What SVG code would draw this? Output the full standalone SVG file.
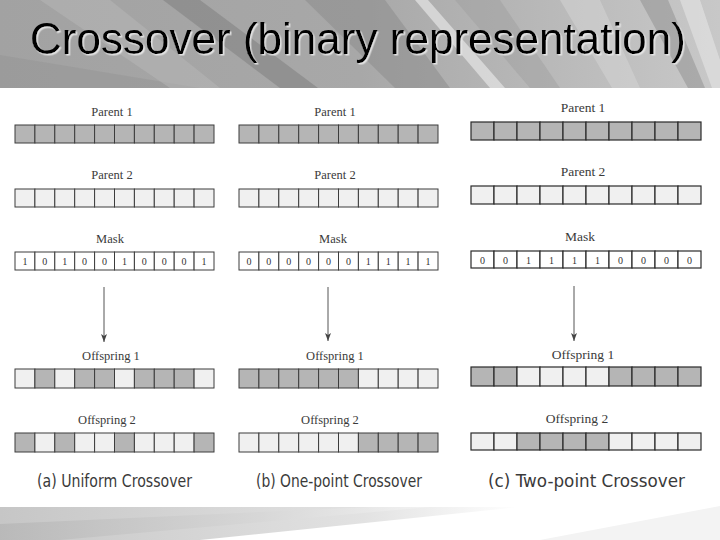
<svg xmlns="http://www.w3.org/2000/svg" width="720" height="540" viewBox="0 0 720 540">
  <defs>
    <linearGradient id="titleBg" x1="0" y1="0" x2="1" y2="0">
      <stop offset="0" stop-color="#a2a2a2"/>
      <stop offset="0.5" stop-color="#a8a8a8"/>
      <stop offset="1" stop-color="#c8c8c8"/>
    </linearGradient>
    <linearGradient id="footA" x1="0" y1="0" x2="1" y2="0">
      <stop offset="0" stop-color="#c6c6c6"/>
      <stop offset="0.7" stop-color="#e2e2e2"/>
      <stop offset="1" stop-color="#ffffff"/>
    </linearGradient>
    <linearGradient id="footB" x1="0" y1="0" x2="1" y2="0">
      <stop offset="0" stop-color="#b6b6b6"/>
      <stop offset="0.6" stop-color="#d6d6d6"/>
      <stop offset="1" stop-color="#f4f4f4"/>
    </linearGradient>
    <filter id="shadow" x="-5%" y="-20%" width="110%" height="140%">
      <feDropShadow dx="1.5" dy="1.5" stdDeviation="0.6" flood-color="#e8e8e8" flood-opacity="0.9"/>
    </filter>
    <marker id="arrow" viewBox="0 0 8 6" refX="8" refY="3" markerWidth="8" markerHeight="6" markerUnits="userSpaceOnUse" orient="auto">
      <path d="M0,0 L8,3 L0,6 L2,3 Z" fill="#444"/>
    </marker>
    <style>
      .d{fill:#b5b5b5;stroke:#3c3c3c;stroke-width:1}
      .l{fill:#f0f0f0;stroke:#3c3c3c;stroke-width:1}
      .m{fill:#ffffff;stroke:#3c3c3c;stroke-width:1}
      .c .d,.c .l,.c .m{stroke:#2a2a2a;stroke-width:1.2}
      .lbl{font-family:"Liberation Serif","DejaVu Serif",serif;font-size:12.5px;fill:#3a3a3a;text-anchor:middle}
      .c .lbl{font-size:13.5px}
      .dg{font-family:"Liberation Serif","DejaVu Serif",serif;font-size:10px;fill:#333;text-anchor:middle}
      .cap{font-family:"DejaVu Sans","Liberation Sans",sans-serif;font-size:17px;fill:#3a3a3a}
      .conn line{stroke:#555;stroke-width:1}
    </style>
  </defs>

  <!-- background -->
  <rect x="0" y="0" width="720" height="540" fill="#ffffff"/>
  <g id="title-band">
    <rect x="0" y="0" width="720" height="88" fill="url(#titleBg)"/>
    <polygon points="0,55 200,88 0,88" fill="#909090" opacity="0.35"/>
    <polygon points="40,0 110,0 220,88 170,88" fill="#b8b8b8" opacity="0.5"/>
    <polygon points="163,0 200,0 318,88 280,88" fill="#808080" opacity="0.55"/>
    <polygon points="305,0 385,0 450,88 395,88" fill="#8a8a8a" opacity="0.5"/>
    <polygon points="415,0 428,0 505,88 490,88" fill="#e6e6e6" opacity="0.7"/>
    <polygon points="455,0 500,0 560,88 530,88" fill="#9c9c9c" opacity="0.4"/>
    <polygon points="560,0 600,0 640,88 612,88" fill="#d6d6d6" opacity="0.5"/>
    <polygon points="640,0 668,0 705,88 688,88" fill="#8e8e8e" opacity="0.5"/>
    <polygon points="680,0 700,0 720,60 720,88 712,88" fill="#e4e4e4" opacity="0.6"/>
    <text x="30" y="54" font-family="Liberation Sans, Arial, sans-serif" font-size="44" fill="#000" filter="url(#shadow)" textLength="656" lengthAdjust="spacingAndGlyphs">Crossover (binary representation)</text>
  </g>
  <g id="footer-band">
    <polygon points="0,507 520,507 200,540 0,540" fill="url(#footA)"/>
    <polygon points="0,524 370,507 430,507 60,540 0,540" fill="url(#footB)" opacity="0.8"/>
    <polygon points="540,540 720,506 720,540" fill="#f3f3f3"/>
  </g>

  <!-- Panel (a) Uniform -->
  <g id="panel-a">
    <text class="lbl" x="112" y="116">Parent 1</text>
    <g transform="translate(15,125)">
      <rect class="d" x="0" width="19.9" height="18"/><rect class="d" x="19.9" width="19.9" height="18"/><rect class="d" x="39.8" width="19.9" height="18"/><rect class="d" x="59.7" width="19.9" height="18"/><rect class="d" x="79.6" width="19.9" height="18"/><rect class="d" x="99.5" width="19.9" height="18"/><rect class="d" x="119.4" width="19.9" height="18"/><rect class="d" x="139.3" width="19.9" height="18"/><rect class="d" x="159.2" width="19.9" height="18"/><rect class="d" x="179.1" width="19.9" height="18"/>
    </g>
    <text class="lbl" x="112" y="179">Parent 2</text>
    <g transform="translate(15,189)">
      <rect class="l" x="0" width="19.9" height="18"/><rect class="l" x="19.9" width="19.9" height="18"/><rect class="l" x="39.8" width="19.9" height="18"/><rect class="l" x="59.7" width="19.9" height="18"/><rect class="l" x="79.6" width="19.9" height="18"/><rect class="l" x="99.5" width="19.9" height="18"/><rect class="l" x="119.4" width="19.9" height="18"/><rect class="l" x="139.3" width="19.9" height="18"/><rect class="l" x="159.2" width="19.9" height="18"/><rect class="l" x="179.1" width="19.9" height="18"/>
    </g>
    <text class="lbl" x="110" y="243">Mask</text>
    <g transform="translate(15,252)">
      <rect class="m" x="0" width="19.9" height="18"/><rect class="m" x="19.9" width="19.9" height="18"/><rect class="m" x="39.8" width="19.9" height="18"/><rect class="m" x="59.7" width="19.9" height="18"/><rect class="m" x="79.6" width="19.9" height="18"/><rect class="m" x="99.5" width="19.9" height="18"/><rect class="m" x="119.4" width="19.9" height="18"/><rect class="m" x="139.3" width="19.9" height="18"/><rect class="m" x="159.2" width="19.9" height="18"/><rect class="m" x="179.1" width="19.9" height="18"/>
      <text class="dg" x="9.9" y="13">1</text><text class="dg" x="29.8" y="13">0</text><text class="dg" x="49.7" y="13">1</text><text class="dg" x="69.6" y="13">0</text><text class="dg" x="89.5" y="13">0</text><text class="dg" x="109.4" y="13">1</text><text class="dg" x="129.3" y="13">0</text><text class="dg" x="149.2" y="13">0</text><text class="dg" x="169.1" y="13">0</text><text class="dg" x="189" y="13">1</text>
    </g>
    <text class="lbl" x="111" y="360">Offspring 1</text>
    <g transform="translate(15,369)">
      <rect class="l" x="0" width="19.9" height="19"/><rect class="d" x="19.9" width="19.9" height="19"/><rect class="l" x="39.8" width="19.9" height="19"/><rect class="d" x="59.7" width="19.9" height="19"/><rect class="d" x="79.6" width="19.9" height="19"/><rect class="l" x="99.5" width="19.9" height="19"/><rect class="d" x="119.4" width="19.9" height="19"/><rect class="d" x="139.3" width="19.9" height="19"/><rect class="d" x="159.2" width="19.9" height="19"/><rect class="l" x="179.1" width="19.9" height="19"/>
    </g>
    <text class="lbl" x="107" y="424">Offspring 2</text>
    <g transform="translate(15,433)">
      <rect class="d" x="0" width="19.9" height="19"/><rect class="l" x="19.9" width="19.9" height="19"/><rect class="d" x="39.8" width="19.9" height="19"/><rect class="l" x="59.7" width="19.9" height="19"/><rect class="l" x="79.6" width="19.9" height="19"/><rect class="d" x="99.5" width="19.9" height="19"/><rect class="l" x="119.4" width="19.9" height="19"/><rect class="l" x="139.3" width="19.9" height="19"/><rect class="l" x="159.2" width="19.9" height="19"/><rect class="d" x="179.1" width="19.9" height="19"/>
    </g>
    <text class="cap" x="37" y="487" textLength="155" lengthAdjust="spacingAndGlyphs">(a) Uniform Crossover</text>
  </g>

  <!-- Panel (b) One-point -->
  <g id="panel-b">
    <text class="lbl" x="335" y="116">Parent 1</text>
    <g transform="translate(239,125)">
      <rect class="d" x="0" width="19.9" height="18"/><rect class="d" x="19.9" width="19.9" height="18"/><rect class="d" x="39.8" width="19.9" height="18"/><rect class="d" x="59.7" width="19.9" height="18"/><rect class="d" x="79.6" width="19.9" height="18"/><rect class="d" x="99.5" width="19.9" height="18"/><rect class="d" x="119.4" width="19.9" height="18"/><rect class="d" x="139.3" width="19.9" height="18"/><rect class="d" x="159.2" width="19.9" height="18"/><rect class="d" x="179.1" width="19.9" height="18"/>
    </g>
    <text class="lbl" x="335" y="179">Parent 2</text>
    <g transform="translate(239,189)">
      <rect class="l" x="0" width="19.9" height="18"/><rect class="l" x="19.9" width="19.9" height="18"/><rect class="l" x="39.8" width="19.9" height="18"/><rect class="l" x="59.7" width="19.9" height="18"/><rect class="l" x="79.6" width="19.9" height="18"/><rect class="l" x="99.5" width="19.9" height="18"/><rect class="l" x="119.4" width="19.9" height="18"/><rect class="l" x="139.3" width="19.9" height="18"/><rect class="l" x="159.2" width="19.9" height="18"/><rect class="l" x="179.1" width="19.9" height="18"/>
    </g>
    <text class="lbl" x="333" y="243">Mask</text>
    <g transform="translate(239,252)">
      <rect class="m" x="0" width="19.9" height="18"/><rect class="m" x="19.9" width="19.9" height="18"/><rect class="m" x="39.8" width="19.9" height="18"/><rect class="m" x="59.7" width="19.9" height="18"/><rect class="m" x="79.6" width="19.9" height="18"/><rect class="m" x="99.5" width="19.9" height="18"/><rect class="m" x="119.4" width="19.9" height="18"/><rect class="m" x="139.3" width="19.9" height="18"/><rect class="m" x="159.2" width="19.9" height="18"/><rect class="m" x="179.1" width="19.9" height="18"/>
      <text class="dg" x="9.9" y="13">0</text><text class="dg" x="29.8" y="13">0</text><text class="dg" x="49.7" y="13">0</text><text class="dg" x="69.6" y="13">0</text><text class="dg" x="89.5" y="13">0</text><text class="dg" x="109.4" y="13">0</text><text class="dg" x="129.3" y="13">1</text><text class="dg" x="149.2" y="13">1</text><text class="dg" x="169.1" y="13">1</text><text class="dg" x="189" y="13">1</text>
    </g>
    <text class="lbl" x="335" y="360">Offspring 1</text>
    <g transform="translate(239,369)">
      <rect class="d" x="0" width="19.9" height="19"/><rect class="d" x="19.9" width="19.9" height="19"/><rect class="d" x="39.8" width="19.9" height="19"/><rect class="d" x="59.7" width="19.9" height="19"/><rect class="d" x="79.6" width="19.9" height="19"/><rect class="d" x="99.5" width="19.9" height="19"/><rect class="l" x="119.4" width="19.9" height="19"/><rect class="l" x="139.3" width="19.9" height="19"/><rect class="l" x="159.2" width="19.9" height="19"/><rect class="l" x="179.1" width="19.9" height="19"/>
    </g>
    <text class="lbl" x="330" y="424">Offspring 2</text>
    <g transform="translate(239,433)">
      <rect class="l" x="0" width="19.9" height="19"/><rect class="l" x="19.9" width="19.9" height="19"/><rect class="l" x="39.8" width="19.9" height="19"/><rect class="l" x="59.7" width="19.9" height="19"/><rect class="l" x="79.6" width="19.9" height="19"/><rect class="l" x="99.5" width="19.9" height="19"/><rect class="d" x="119.4" width="19.9" height="19"/><rect class="d" x="139.3" width="19.9" height="19"/><rect class="d" x="159.2" width="19.9" height="19"/><rect class="d" x="179.1" width="19.9" height="19"/>
    </g>
    <text class="cap" x="256" y="487" textLength="166" lengthAdjust="spacingAndGlyphs">(b) One-point Crossover</text>
  </g>

  <!-- Panel (c) Two-point -->
  <g id="panel-c" class="c">
    <text class="lbl" x="583" y="112">Parent 1</text>
    <g transform="translate(471,122)">
      <rect class="d" x="0" width="23" height="18"/><rect class="d" x="23" width="23" height="18"/><rect class="d" x="46" width="23" height="18"/><rect class="d" x="69" width="23" height="18"/><rect class="d" x="92" width="23" height="18"/><rect class="d" x="115" width="23" height="18"/><rect class="d" x="138" width="23" height="18"/><rect class="d" x="161" width="23" height="18"/><rect class="d" x="184" width="23" height="18"/><rect class="d" x="207" width="23" height="18"/>
    </g>
    <text class="lbl" x="583" y="176">Parent 2</text>
    <g transform="translate(471,186)">
      <rect class="l" x="0" width="23" height="18"/><rect class="l" x="23" width="23" height="18"/><rect class="l" x="46" width="23" height="18"/><rect class="l" x="69" width="23" height="18"/><rect class="l" x="92" width="23" height="18"/><rect class="l" x="115" width="23" height="18"/><rect class="l" x="138" width="23" height="18"/><rect class="l" x="161" width="23" height="18"/><rect class="l" x="184" width="23" height="18"/><rect class="l" x="207" width="23" height="18"/>
    </g>
    <text class="lbl" x="580" y="241">Mask</text>
    <g transform="translate(471,251)">
      <rect class="m" x="0" width="23" height="17"/><rect class="m" x="23" width="23" height="17"/><rect class="m" x="46" width="23" height="17"/><rect class="m" x="69" width="23" height="17"/><rect class="m" x="92" width="23" height="17"/><rect class="m" x="115" width="23" height="17"/><rect class="m" x="138" width="23" height="17"/><rect class="m" x="161" width="23" height="17"/><rect class="m" x="184" width="23" height="17"/><rect class="m" x="207" width="23" height="17"/>
      <text class="dg" x="11.5" y="13">0</text><text class="dg" x="34.5" y="13">0</text><text class="dg" x="57.5" y="13">1</text><text class="dg" x="80.5" y="13">1</text><text class="dg" x="103.5" y="13">1</text><text class="dg" x="126.5" y="13">1</text><text class="dg" x="149.5" y="13">0</text><text class="dg" x="172.5" y="13">0</text><text class="dg" x="195.5" y="13">0</text><text class="dg" x="218.5" y="13">0</text>
    </g>
    <text class="lbl" x="583" y="359">Offspring 1</text>
    <g transform="translate(471,367)">
      <rect class="d" x="0" width="23" height="19"/><rect class="d" x="23" width="23" height="19"/><rect class="l" x="46" width="23" height="19"/><rect class="l" x="69" width="23" height="19"/><rect class="l" x="92" width="23" height="19"/><rect class="l" x="115" width="23" height="19"/><rect class="d" x="138" width="23" height="19"/><rect class="d" x="161" width="23" height="19"/><rect class="d" x="184" width="23" height="19"/><rect class="d" x="207" width="23" height="19"/>
    </g>
    <text class="lbl" x="577" y="423">Offspring 2</text>
    <g transform="translate(471,433)">
      <rect class="l" x="0" width="23" height="17"/><rect class="l" x="23" width="23" height="17"/><rect class="d" x="46" width="23" height="17"/><rect class="d" x="69" width="23" height="17"/><rect class="d" x="92" width="23" height="17"/><rect class="d" x="115" width="23" height="17"/><rect class="l" x="138" width="23" height="17"/><rect class="l" x="161" width="23" height="17"/><rect class="l" x="184" width="23" height="17"/><rect class="l" x="207" width="23" height="17"/>
    </g>
    <text class="cap" x="488" y="487" font-size="18" textLength="197" lengthAdjust="spacingAndGlyphs">(c) Two-point Crossover</text>
  </g>

  <!-- connectors -->
  <g id="connectors" class="conn">
    <line x1="104" y1="287" x2="104" y2="342" marker-end="url(#arrow)"/>
    <line x1="328" y1="287" x2="328" y2="341" marker-end="url(#arrow)"/>
    <line x1="574" y1="286" x2="574" y2="341" marker-end="url(#arrow)"/>
  </g>
</svg>
